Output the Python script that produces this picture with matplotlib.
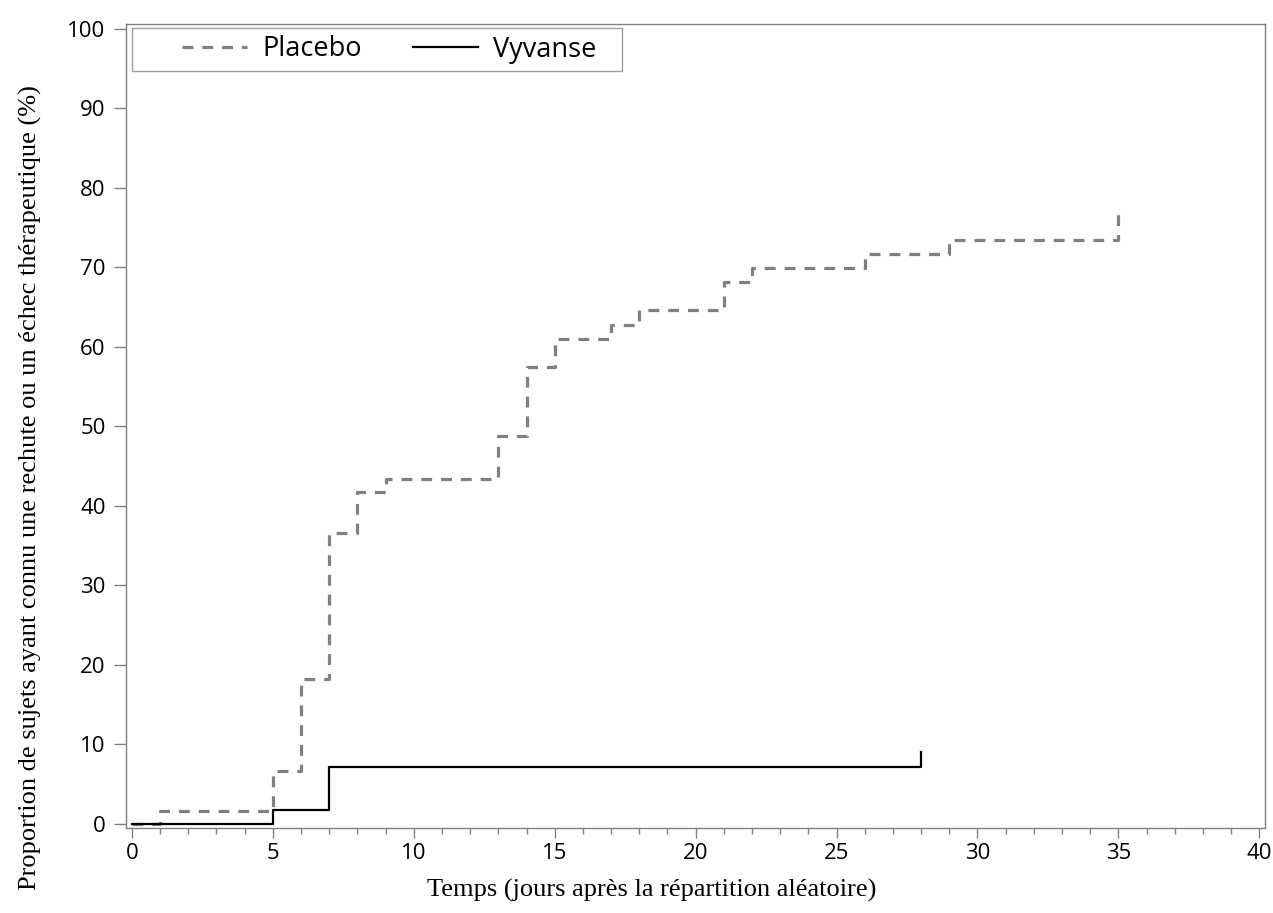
import matplotlib
matplotlib.use("Agg")
import matplotlib.pyplot as plt
from matplotlib.ticker import MultipleLocator
from matplotlib.patches import Rectangle

# Data (step functions, cumulative %)
placebo_t = [0, 1, 5, 6, 7, 8, 9, 13, 14, 15, 17, 18, 21, 22, 26, 29, 35, 35]
placebo_y = [0, 1.7, 6.7, 18.2, 36.6, 41.7, 43.4, 48.8, 57.5, 61.0, 62.8, 64.6, 68.1, 69.9, 71.7, 73.5, 73.5, 77.0]
vyvanse_t = [0, 5, 7, 28, 28]
vyvanse_y = [0, 1.8, 7.2, 7.2, 9.0]

xticks = [0, 5, 10, 15, 20, 25, 30, 35, 40]
yticks = [0, 10, 20, 30, 40, 50, 60, 70, 80, 90, 100]
xlabel = "Temps (jours après la répartition aléatoire)"
ylabel = "Proportion de sujets ayant connu une rechute ou un échec thérapeutique (%)"

W, H = 1273, 913
fig = plt.figure(figsize=(W / 100, H / 100), dpi=100)
ax = fig.add_axes([125.7 / W, 1 - 828 / H, (1265 - 125.7) / W, (828 - 24) / H])

ax.step(placebo_t, placebo_y, where="post", color="#808080", lw=2.3,
        linestyle=(0, (3.4, 2.8)), dash_capstyle="butt", label="Placebo")
ax.step(vyvanse_t, vyvanse_y, where="post", color="black", lw=1.6, label="Vyvanse")

ax.set_xlim(-0.22, 40.2)
ax.set_ylim(-0.5, 100.6)
ax.set_xticks(xticks)
ax.set_yticks(yticks)
ax.xaxis.set_minor_locator(MultipleLocator(1))

for s in ax.spines.values():
    s.set_color("#808080")
    s.set_linewidth(1.0)

tickfont = "Open Sans"
ax.tick_params(axis="y", which="major", direction="out", length=9, width=1,
               color="#808080", labelsize=16, pad=5.5)
ax.tick_params(axis="x", which="major", direction="out", length=7.5, width=1,
               color="#808080", labelsize=16, pad=3.5)
ax.tick_params(axis="x", which="minor", direction="out", length=4, width=1, color="#808080")
for lab in ax.get_xticklabels() + ax.get_yticklabels():
    lab.set_fontfamily(tickfont)

fig.text(652 / W, 1 - 890 / H, xlabel, family="Liberation Serif", fontsize=19,
         ha="center", va="center")
fig.text(30 / W, 1 - 488 / H, ylabel, family="Liberation Serif", fontsize=19,
         ha="center", va="center", rotation=90)

# legend with custom frame
fig.patches.append(Rectangle((132 / W, 1 - 71 / H), 490 / W, 43 / H,
                             transform=fig.transFigure, fill=False,
                             edgecolor="#a0a0a0", lw=1.0))
leg = ax.legend(loc="center left", bbox_to_anchor=(182 / W, 1 - 49.5 / H),
                bbox_transform=fig.transFigure, ncol=2, frameon=False,
                prop={"family": tickfont, "size": 19.5}, handlelength=2.4,
                columnspacing=1.9, borderaxespad=0, borderpad=0,
                handletextpad=0.55)

fig.savefig("out.png", dpi=100)
